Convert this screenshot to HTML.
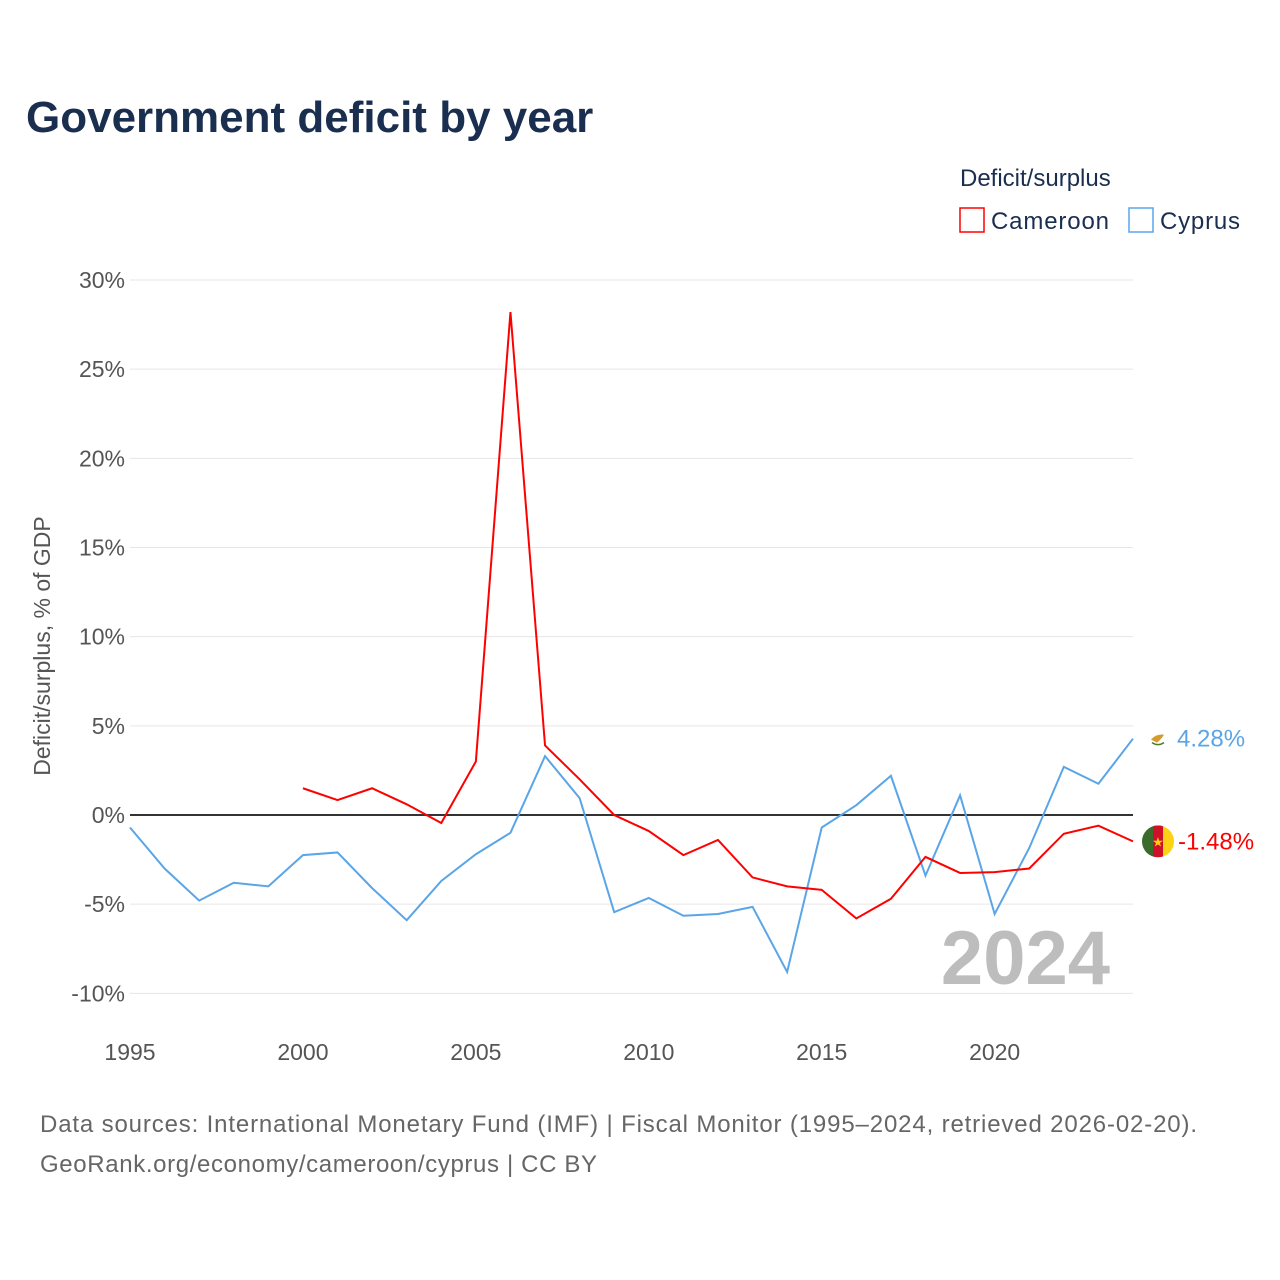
<!DOCTYPE html>
<html><head><meta charset="utf-8"><style>
body{margin:0;background:#fff;font-family:"Liberation Sans",sans-serif;}
#wrap{position:relative;width:1280px;height:1280px;overflow:hidden;}
</style></head><body>
<div id="wrap">
<svg id="chart" width="1280" height="1280" xmlns="http://www.w3.org/2000/svg">
<defs><clipPath id="cc"><circle cx="1158" cy="841" r="16"/></clipPath></defs>
<text x="26" y="132" font-size="44" font-weight="bold" fill="#1a2e4f">Government deficit by year</text>
<text x="960" y="186" font-size="24" fill="#1a2e4f">Deficit/surplus</text>
<g><rect x="960" y="208" width="24" height="24" fill="none" stroke="#ff0000" stroke-width="1.5"/><text x="991" y="229" font-size="24" fill="#1a2e4f" textLength="118">Cameroon</text></g>
<g><rect x="1129" y="208" width="24" height="24" fill="none" stroke="#5aa5e8" stroke-width="1.5"/><text x="1160" y="229" font-size="24" fill="#1a2e4f" textLength="80">Cyprus</text></g>
<text transform="translate(50,646) rotate(-90)" text-anchor="middle" font-size="23" fill="#555">Deficit/surplus, % of GDP</text>
<g id="grid"></g><g id="ticks"></g>
<text x="1110" y="984" text-anchor="end" font-size="76" font-weight="bold" fill="#bdbdbd">2024</text>
<g id="series"></g>
<text x="40" y="1132" font-size="24" fill="#666" textLength="1157">Data sources: International Monetary Fund (IMF) | Fiscal Monitor (1995–2024, retrieved 2026-02-20).</text>
<text x="40" y="1172" font-size="24" fill="#666" textLength="557">GeoRank.org/economy/cameroon/cyprus | CC BY</text>
</svg></div>
<script>
const cameroonYears=[2000,2001,2002,2003,2004,2005,2006,2007,2008,2009,2010,2011,2012,2013,2014,2015,2016,2017,2018,2019,2020,2021,2022,2023,2024];
const cameroonValues=[1.5,0.84,1.5,0.6,-0.45,3.0,28.2,3.9,2.0,0,-0.9,-2.25,-1.4,-3.5,-4.0,-4.2,-5.8,-4.7,-2.35,-3.25,-3.2,-3.0,-1.05,-0.6,-1.48];
const cyprusYears=[1995,1996,1997,1998,1999,2000,2001,2002,2003,2004,2005,2006,2007,2008,2009,2010,2011,2012,2013,2014,2015,2016,2017,2018,2019,2020,2021,2022,2023,2024];
const cyprusValues=[-0.7,-3.0,-4.8,-3.8,-4.0,-2.25,-2.1,-4.1,-5.9,-3.7,-2.2,-1.0,3.3,0.95,-5.45,-4.65,-5.65,-5.55,-5.15,-8.8,-0.7,0.55,2.2,-3.4,1.1,-5.55,-1.85,2.7,1.75,4.28];
const yTicks=[-10,-5,0,5,10,15,20,25,30];
const xTicks=[1995,2000,2005,2010,2015,2020];
const NS="http://www.w3.org/2000/svg";
const x=v=>130+(v-1995)*(1133-130)/29;
const y=v=>815-v*(815-280)/30;
function mk(tag,attrs,parent){const e=document.createElementNS(NS,tag);for(const k in attrs)e.setAttribute(k,attrs[k]);parent.appendChild(e);return e;}
const grid=document.getElementById('grid'),ticks=document.getElementById('ticks'),series=document.getElementById('series');
yTicks.forEach(t=>{
 const l=mk('line',{x1:130,x2:1133,y1:y(t),y2:y(t),stroke:t===0?'#333':'#e6e6e6','stroke-width':t===0?2:1},grid);
 
 
 const tx=mk('text',{x:125,y:y(t)+8,'text-anchor':'end','font-size':23,fill:'#555'},ticks);
 tx.textContent=t+'%';
 
 
});
xTicks.forEach(t=>{
 const tx=mk('text',{x:x(t),y:1060,'text-anchor':'middle','font-size':23,fill:'#555'},ticks);
 tx.textContent=t;
 
 
});
function line(xs,vs,color,name){
 const p=mk('polyline',{points:xs.map((a,i)=>x(a)+','+y(vs[i])).join(' '),fill:'none',stroke:color,'stroke-width':2},series);
 
 
}
line(cyprusYears,cyprusValues,'#5aa5e8','cyprus-line');
line(cameroonYears,cameroonValues,'#ff0000','cameroon-line');
const cyE=cyprusValues[cyprusValues.length-1],caE=cameroonValues[cameroonValues.length-1];
const fc=mk('circle',{cx:1158,cy:y(cyE),r:10,fill:'#fff'},series);


const fo=mk('path',{d:`M1151 ${y(cyE)+1} q5 -6 13 -5 q-3 5 -7 8 z`,fill:'#d59b2d'},series);


const fl=mk('path',{d:`M1152 ${y(cyE)+4} q6 4 12 0`,fill:'none',stroke:'#4e7a2e','stroke-width':1.5},series);


const l1=mk('text',{x:1177,y:y(cyE)+8,'font-size':24,fill:'#5aa5e8'},series);
l1.textContent=cyE.toFixed(2)+'%';


const cy0=y(caE);
document.querySelector('#cc circle').setAttribute('cy',cy0);
const g=mk('g',{'clip-path':'url(#cc)'},series);


mk('rect',{x:1142,y:cy0-16,width:11,height:32,fill:'#3a6b2a'},g);
mk('rect',{x:1153,y:cy0-16,width:10,height:32,fill:'#ce1126'},g);
mk('rect',{x:1163,y:cy0-16,width:11,height:32,fill:'#fcd116'},g);
const st=mk('text',{x:1158,y:cy0+5,'text-anchor':'middle','font-size':13,fill:'#fcd116'},series);
st.textContent='★';


const l2=mk('text',{x:1178,y:cy0+8,'font-size':24,fill:'#ff0000'},series);
l2.textContent=caE.toFixed(2)+'%';


</script>
</body></html>
